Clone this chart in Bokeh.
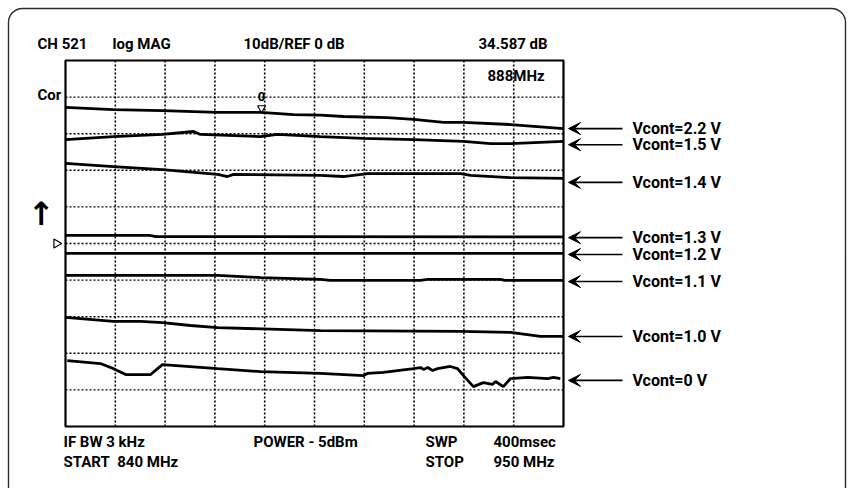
from bokeh.plotting import figure
from bokeh.models import ColumnDataSource, Arrow, VeeHead, BoxAnnotation, Range1d
from bokeh.core.properties import value
from bokeh.embed import file_html
from bokeh.resources import INLINE

# ---------------- data ----------------
f_start, f_stop = 840.0, 950.0          # MHz
db_top, db_bottom = 50.0, -50.0         # 10 dB/div, REF 0 dB
x_grid = [851, 862, 873, 884, 895, 906, 917, 928, 939]
y_grid = [40, 30, 20, 10, 0, -10, -20, -30, -40]

v22_f = [840.0, 850.6, 861.4, 873.6, 883.1, 890.4, 896.3, 901.4, 911.1, 916.9, 923.5, 927.9, 938.3, 950.0]
v22_db = [37.2, 36.6, 36.3, 35.8, 35.8, 35.2, 35.1, 34.7, 34.4, 33.9, 33.1, 33.1, 32.5, 31.4]

v15_f = [840.0, 850.6, 861.4, 868.3, 869.8, 883.1, 886.8, 896.3, 905.8, 916.9, 927.9, 933.9, 938.3, 950.0]
v15_db = [28.4, 29.2, 29.8, 30.6, 29.8, 29.2, 29.8, 29.2, 28.7, 28.4, 27.9, 27.3, 27.3, 27.9]

v14_f = [840.0, 850.6, 861.4, 873.6, 875.8, 877.1, 896.3, 901.4, 906.7, 927.3, 929.5, 938.3, 950.0]
v14_db = [21.9, 21.0, 20.2, 18.9, 18.3, 18.9, 18.6, 18.3, 19.1, 19.1, 18.6, 18.0, 17.8]

v13_f = [840.0, 858.5, 860.0, 950.0]
v13_db = [2.2, 2.2, 1.9, 1.8]

v12_f = [840.0, 950.0]
v12_db = [-2.7, -2.7]

v11_f = [840.0, 873.6, 883.1, 896.3, 898.5, 918.4, 920.0, 936.1, 937.0, 950.0]
v11_db = [-8.7, -8.7, -9.3, -9.8, -10.1, -10.1, -9.8, -9.8, -10.1, -10.1]

v10_f = [840.0, 850.6, 856.6, 861.4, 867.6, 873.6, 896.3, 927.3, 938.3, 944.9, 950.0]
v10_db = [-20.2, -21.3, -21.3, -21.6, -22.4, -23.0, -23.8, -24.0, -24.3, -25.4, -25.4]

v0_f = [840.4, 847.7, 850.6, 853.3, 858.8, 861.4, 873.6, 883.1, 896.3, 905.8, 906.7, 910.2,
        916.9, 918.4, 919.1, 920.0, 921.1, 922.2, 925.0, 926.6, 927.9, 930.1, 932.3, 934.3,
        935.0, 936.7, 938.3, 942.1, 946.5, 947.8, 949.3]
v0_db = [-32.0, -32.8, -34.2, -35.8, -35.8, -33.1, -34.2, -35.0, -35.5, -36.1, -35.5, -35.2,
         -34.2, -33.9, -34.4, -33.9, -34.7, -34.2, -33.6, -34.2, -36.1, -39.1, -38.0, -38.5,
         -37.7, -39.1, -36.9, -36.6, -36.9, -36.6, -36.9]

traces = [(v22_f, v22_db), (v15_f, v15_db), (v14_f, v14_db), (v13_f, v13_db),
          (v12_f, v12_db), (v11_f, v11_db), (v10_f, v10_db), (v0_f, v0_db)]

labels = ["Vcont=2.2 V", "Vcont=1.5 V", "Vcont=1.4 V", "Vcont=1.3 V",
          "Vcont=1.2 V", "Vcont=1.1 V", "Vcont=1.0 V", "Vcont=0 V"]
label_db = [31.4, 27.0, 16.7, 1.6, -3.0, -10.4, -25.4, -37.4]

header_texts = ["CH 521", "log MAG", "10dB/REF 0 dB", "34.587 dB"]
footer_row1 = ["IF BW 3 kHz", "POWER - 5dBm", "SWP", "400msec"]
footer_row2 = ["START\u00a0 840 MHz", "STOP", "950 MHz"]
marker_text = "888MHz"
marker_f = 883.3
marker_db = 40.0

# ---------------- layout ----------------
W, H = 849, 488
L, R, T, B = 65, 563, 60, 426          # instrument graticule in page pixels
sx = (f_stop - f_start) / (R - L)
sy = (db_top - db_bottom) / (B - T)


def X(px):
    return f_start + (px - L) * sx


def Y(py):
    return db_top - (py - T) * sy


FONT = "Roboto"
FS = "15px"

p = figure(width=W, height=H, output_backend="svg", toolbar_location=None,
           x_range=Range1d(X(0), X(W)), y_range=Range1d(Y(H), Y(0)),
           x_axis_location=None, y_axis_location=None, min_border=0,
           outline_line_color=None, background_fill_color="white",
           border_fill_color="white")
p.grid.visible = False

# outer rounded frame
p.add_layout(BoxAnnotation(left=X(8), right=X(845), top=Y(8), bottom=Y(560),
                           fill_alpha=0, line_color="#2a2a2a", line_alpha=1.0,
                           line_width=1.4, border_radius=14))

# graticule (dotted)
p.segment(x0=x_grid, y0=[db_bottom] * len(x_grid), x1=x_grid, y1=[db_top] * len(x_grid),
          line_color="black", line_width=1.6, line_dash="2 2")
p.segment(x0=[f_start] * len(y_grid), y0=y_grid, x1=[f_stop] * len(y_grid), y1=y_grid,
          line_color="black", line_width=1.4, line_dash="2 2")

# traces
for fx, dbv in traces:
    p.line(fx, dbv, line_color="black", line_width=2.8)

# graticule box
p.quad(left=[f_start], right=[f_stop], top=[db_top], bottom=[db_bottom],
       fill_color=None, line_color="black", line_width=2.2)

# arrows + labels
src = ColumnDataSource(dict(x0=[X(622)] * len(labels), x1=[X(568)] * len(labels),
                            y=label_db, t=labels))
p.add_layout(Arrow(end=VeeHead(size=12, fill_color="black", line_color="black", line_width=1),
                   x_start="x0", y_start="y", x_end="x1", y_end="y", source=src,
                   line_color="black", line_width=1.6))
p.text(x=X(632), y="y", text="t", source=src, text_font=value(FONT),
       text_font_style="bold", text_font_size="16px", text_baseline="middle",
       text_color="black")

# header
p.text(x=[X(37), X(112), X(243), X(478)], y=[Y(43)] * 4, text=header_texts,
       text_font=value(FONT), text_font_style="bold", text_font_size=FS,
       text_baseline="middle", text_color="black")
# footer
p.text(x=[X(63), X(253), X(425), X(493)], y=[Y(441)] * 4, text=footer_row1,
       text_font=value(FONT), text_font_style="bold", text_font_size=FS,
       text_baseline="middle", text_color="black")
p.text(x=[X(63), X(425), X(493)], y=[Y(461)] * 3, text=footer_row2,
       text_font=value(FONT), text_font_style="bold", text_font_size=FS,
       text_baseline="middle", text_color="black")

# marker readout and symbols
p.text(x=[X(487)], y=[Y(75)], text=[marker_text], text_font=value(FONT),
       text_font_style="bold", text_font_size=FS, text_baseline="middle")
p.text(x=[X(37)], y=[Y(94)], text=["Cor"], text_font=value(FONT),
       text_font_style="bold", text_font_size=FS, text_baseline="middle")
p.text(x=[marker_f], y=[marker_db + 0.3], text=["0"], text_font=value(FONT),
       text_font_style="bold", text_font_size="13px", text_baseline="middle",
       text_align="center")
p.scatter(x=[marker_f], y=[marker_db - 3.0], marker="inverted_triangle", size=8,
          fill_color="white", line_color="black", line_width=1.2)
p.text(x=[X(41)], y=[Y(213)], text=["\u2191"], text_font=value("DejaVu Sans"),
       text_font_style="bold", text_font_size="32px", text_baseline="middle",
       text_align="center")
p.scatter(x=[X(56)], y=[0.0], marker="triangle", angle=-1.5708, size=9,
          fill_color="white", line_color="black", line_width=1.2)

open("out.html", "w").write(file_html(p, INLINE))
